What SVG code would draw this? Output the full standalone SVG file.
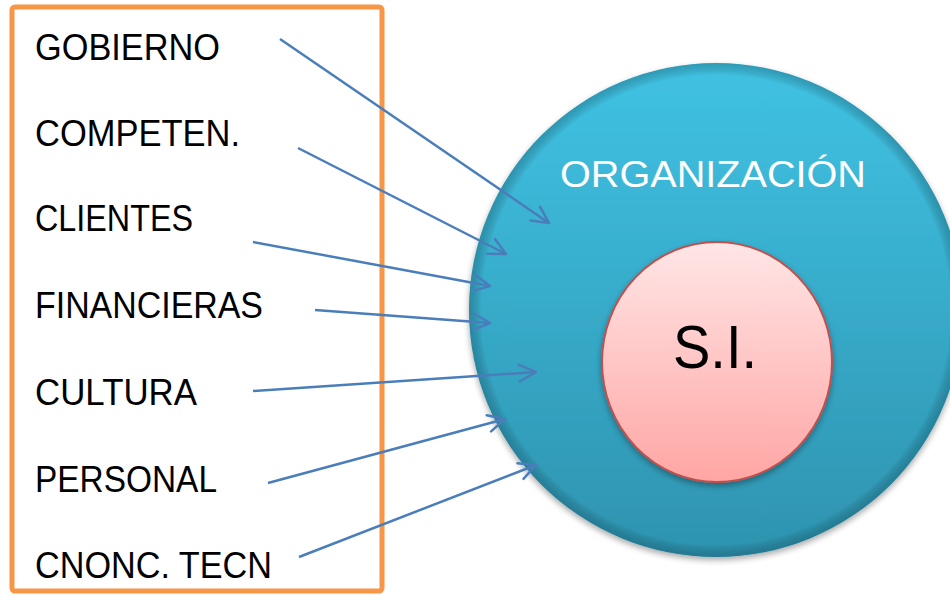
<svg xmlns="http://www.w3.org/2000/svg" width="950" height="596" viewBox="0 0 950 596">
<style>
.lbl{font-family:"Liberation Sans",Arial,sans-serif;font-size:36px;fill:#000}
.conn line{stroke:#4A7EBB;stroke-width:2.5;fill:none;marker-end:url(#arr)}
</style>
<defs>
<linearGradient id="gOrg" x1="0" y1="0" x2="0" y2="1">
<stop offset="0" stop-color="#40C2E3"/>
<stop offset="1" stop-color="#2E93AF"/>
</linearGradient>
<radialGradient id="gRim" cx="0.5" cy="0.5" r="0.5">
<stop offset="0.95" stop-color="#000" stop-opacity="0"/>
<stop offset="1" stop-color="#0A3C4A" stop-opacity="0.3"/>
</radialGradient>
<linearGradient id="gSI" x1="0" y1="0" x2="0" y2="1">
<stop offset="0" stop-color="#FFE6E6"/>
<stop offset="1" stop-color="#FFA6A4"/>
</linearGradient>
<filter id="sh" x="-10%" y="-10%" width="120%" height="125%">
<feGaussianBlur in="SourceAlpha" stdDeviation="3"/>
<feOffset dx="0" dy="3" result="b"/>
<feComponentTransfer><feFuncA type="linear" slope="0.35"/></feComponentTransfer>
<feMerge><feMergeNode/><feMergeNode in="SourceGraphic"/></feMerge>
</filter>
<marker id="arr" viewBox="0 0 12 12" refX="11" refY="6" markerWidth="8" markerHeight="8" orient="auto" markerUnits="strokeWidth">
<path d="M1,1 L11,6 L1,11" fill="none" stroke="#4A7EBB" stroke-width="1.5" stroke-linecap="round" stroke-linejoin="round"/>
</marker>
</defs>
<rect width="950" height="596" fill="#fff"/>

<g id="organizacion">
<circle cx="716" cy="310" r="247" fill="url(#gOrg)" filter="url(#sh)"/>
<circle cx="716" cy="310" r="247" fill="url(#gRim)"/>
<text x="713" y="187" text-anchor="middle" style="font-family:'Liberation Sans',Arial,sans-serif;font-size:37px;fill:#fff" textLength="306" lengthAdjust="spacingAndGlyphs">ORGANIZACIÓN</text>
</g>

<g id="si">
<ellipse cx="717" cy="362" rx="115" ry="120" fill="url(#gSI)" stroke="#C0504D" stroke-width="2" filter="url(#sh)"/>
<text x="715" y="368" text-anchor="middle" style="font-family:'Liberation Sans',Arial,sans-serif;font-size:62px;fill:#000" textLength="84" lengthAdjust="spacingAndGlyphs">S.I.</text>
</g>

<g id="factores">
<rect x="12" y="7" width="370" height="584" rx="3" fill="none" stroke="#F79646" stroke-width="5"/>
<text class="lbl" x="35" y="60" textLength="185" lengthAdjust="spacingAndGlyphs">GOBIERNO</text>
<text class="lbl" x="35" y="146" textLength="205" lengthAdjust="spacingAndGlyphs">COMPETEN.</text>
<text class="lbl" x="35" y="231" textLength="158" lengthAdjust="spacingAndGlyphs">CLIENTES</text>
<text class="lbl" x="35" y="318" textLength="228" lengthAdjust="spacingAndGlyphs">FINANCIERAS</text>
<text class="lbl" x="35" y="405" textLength="162" lengthAdjust="spacingAndGlyphs">CULTURA</text>
<text class="lbl" x="35" y="492" textLength="182" lengthAdjust="spacingAndGlyphs">PERSONAL</text>
<text class="lbl" x="35" y="578" textLength="237" lengthAdjust="spacingAndGlyphs">CNONC. TECN</text>
</g>

<g id="connectors" class="conn">
<line x1="280" y1="39" x2="549" y2="223"/>
<line x1="298" y1="148" x2="506" y2="254"/>
<line x1="253" y1="242" x2="490" y2="286"/>
<line x1="315" y1="310" x2="490" y2="323"/>
<line x1="253" y1="391" x2="536" y2="372"/>
<line x1="268" y1="483" x2="505" y2="419"/>
<line x1="299" y1="557" x2="536" y2="465"/>
</g>
</svg>
